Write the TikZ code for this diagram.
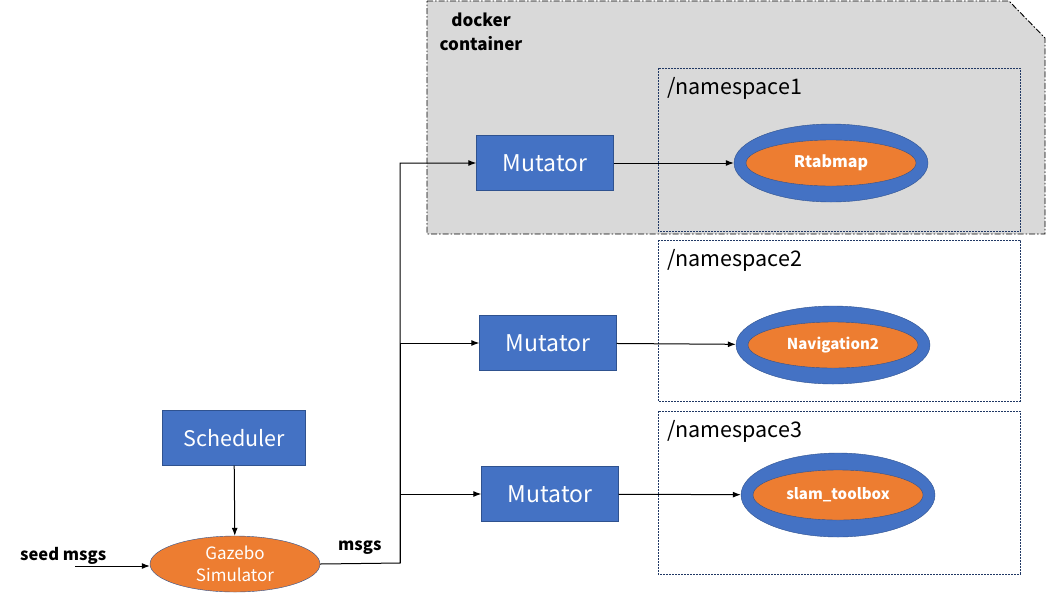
\documentclass[tikz,border=0pt]{standalone}
\usepackage{fontspec}
\setmainfont{Noto Sans CJK SC}
\usetikzlibrary{shapes.geometric,arrows.meta}
\definecolor{boxblue}{HTML}{4472C4}
\definecolor{edgeblue}{HTML}{2F528F}
\definecolor{simorange}{HTML}{ED7D31}
\definecolor{dockergray}{HTML}{D9D9D9}
\definecolor{nsblue}{HTML}{203864}
\begin{document}
\begin{tikzpicture}[x=1pt,y=-1pt,>={Latex[length=8pt,width=6pt]}]
        \tikzstyle{mutator}=[draw=edgeblue,fill=boxblue,text=white,minimum width=137pt,minimum height=55pt,inner sep=0pt,font=\fontsize{23}{26}\selectfont]
        \tikzstyle{outer}=[ellipse,draw=edgeblue,fill=boxblue,minimum width=194pt,minimum height=78pt,inner sep=0pt]
        \tikzstyle{inner}=[ellipse,draw=edgeblue,fill=simorange,text=white,minimum width=170pt,minimum height=46pt,inner sep=0pt,font=\bfseries\fontsize{16}{18}\selectfont]
        \tikzstyle{namespace}=[draw=nsblue,line width=0.8pt,dash pattern=on 2pt off 1pt]
        \tikzstyle{nslabel}=[anchor=west,inner sep=0pt,font=\fontsize{21.5}{24}\selectfont]
        \tikzstyle{edge}=[draw,->,line width=1pt]
        \useasboundingbox (0,0) rectangle (1046,598);
       % docker container
       \draw[fill=dockergray,draw=black,line width=0.9pt,dash pattern=on 6pt off 2pt on 1.5pt off 2pt]
         (427,1) -- (1009,1) -- (1045,38) -- (1045,234) -- (427,234) -- cycle;
       \node [align=center,inner sep=0pt,font=\bfseries\fontsize{17}{24}\selectfont] (docker) at (481,32) {docker\\container};
       % namespaces
       \draw[namespace] (658,68) rectangle (1020,231);
       \draw[namespace] (658,240) rectangle (1020,401);
       \draw[namespace] (658,411) rectangle (1020,574);
       \node [nslabel] (ns1) at (667,88) {/namespace1};
       \node [nslabel] (ns2) at (667,260) {/namespace2};
       \node [nslabel] (ns3) at (667,431) {/namespace3};
       % nodes
       \node [mutator] (m1) at (545,163) {Mutator};
       \node [mutator] (m2) at (548,343) {Mutator};
       \node [mutator] (m3) at (550,494) {Mutator};
       \node [outer] (e1) at (831,163) {};
       \node [inner] (r1) at (831,163) {Rtabmap};
       \node [outer] (e2) at (833,345) {};
       \node [inner,font=\bfseries\fontsize{15}{18}\selectfont] (r2) at (833,345) {Navigation2};
       \node [outer,minimum height=84pt] (e3) at (838,495) {};
       \node [inner,minimum height=50pt,font=\bfseries\fontsize{15}{18}\selectfont] (r3) at (838,495) {slam\_toolbox};
       \node [mutator,minimum width=143pt,font=\fontsize{21.5}{24}\selectfont] (sched) at (234,438) {Scheduler};
       \node [ellipse,draw=edgeblue,fill=simorange,text=white,minimum width=170pt,minimum height=56pt,inner sep=0pt,align=center,font=\fontsize{17}{22}\selectfont] (sim) at (235,564) {Gazebo\\Simulator};
       \node [anchor=west,inner sep=0pt,font=\bfseries\fontsize{16.5}{18}\selectfont] (seedtxt) at (20,556) {seed msgs};
       \node [anchor=west,inner sep=0pt,font=\bfseries\fontsize{16.5}{18}\selectfont] (msgs) at (338,548) {msgs};
       % connectors
       \coordinate (seed) at (75,566);
       \coordinate (bus) at (400,563);
       \path[edge] (sched) -- (sim);
       \path[edge] (seed) -- (sim.west |- seed);
       \path[edge] (sim.east) -- (bus) |- (m1.west);
       \path[edge] (bus) |- (m2.west);
       \path[edge] (bus) |- (m3.west);
       \path[edge] (m1) -- (e1);
       \path[edge] (m2) -- (e2);
       \path[edge] (m3) -- (e3);
\end{tikzpicture}
\end{document}
